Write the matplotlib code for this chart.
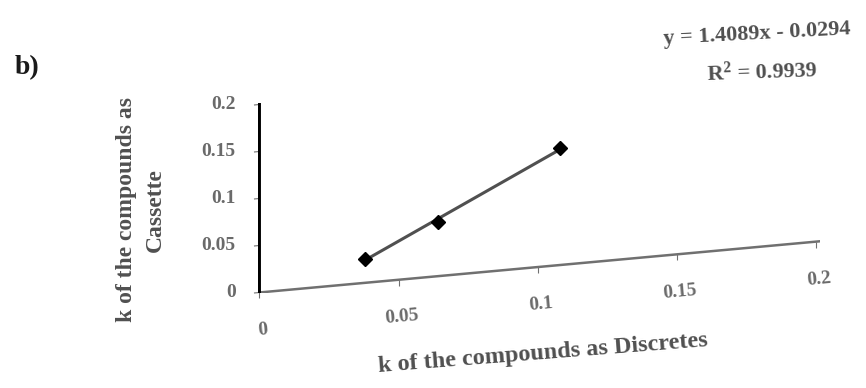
import numpy as np
import matplotlib.pyplot as plt
from matplotlib.transforms import Affine2D
from mpl_toolkits.axisartist import Axes, GridHelperCurveLinear
from mpl_toolkits.axisartist.grid_finder import FixedLocator

plt.rcParams['font.family'] = ['Liberation Serif', 'DejaVu Serif']

k_discrete = [0.038, 0.064, 0.108]
k_cassette = [0.025, 0.058, 0.124]
slope, intercept = 1.4089, -0.0294
r2 = 0.9939
ticks = [0, 0.05, 0.1, 0.15, 0.2]

# scanned figure is sheared: y axis upright, x axis climbs to the right
skew = Affine2D(np.array([[1.0, 0, 0], [0.27, 1.0, 0], [0, 0, 1.0]]))


def fmt(direction, factor, values):
    return ["%g" % v for v in values]


helper = GridHelperCurveLinear(skew,
                               grid_locator1=FixedLocator(ticks),
                               grid_locator2=FixedLocator(ticks),
                               tick_formatter1=fmt,
                               tick_formatter2=fmt)

fig = plt.figure(figsize=(8.66, 3.88), dpi=100)
ax = fig.add_axes([0.298, 0.245, 0.649, 0.49], axes_class=Axes, grid_helper=helper)
ax.axis[:].set_visible(False)
ax.set_xlim(-0.0005, 0.2015)
ax.set_ylim(-0.0005, 0.2015)

xax = ax.new_floating_axis(1, 0)
yax = ax.new_floating_axis(0, 0)
ax.axis['xk'] = xax
ax.axis['yk'] = yax

xax.set_axis_direction('bottom')
yax.set_axis_direction('left')
xax.line.set_color('#707070')
xax.line.set_linewidth(1.8)
yax.line.set_color('black')
yax.line.set_linewidth(2.8)
for a in (xax, yax):
    a.major_ticks.set_tick_out(True)
    a.major_ticks.set_ticksize(4)
    a.major_ticks.set_color('#707070')
    a.major_ticklabels.set_fontsize(14)
    a.major_ticklabels.set_fontweight('bold')
    a.major_ticklabels.set_color('#6a6a6a')
xax.major_ticklabels.set_pad(17)
yax.major_ticklabels.set_pad(13)

tr = skew + ax.transData
xs = np.array([min(k_discrete), max(k_discrete)])
ax.plot(xs, slope * xs + intercept, color='#505050', lw=2.2, transform=tr)
ax.plot(k_discrete, k_cassette, 'D', color='black', ms=7, transform=tr, clip_on=False)

txt = dict(fontweight='bold', color='#505050', ha='center', va='center')
fig.text(0.031, 0.825, 'b)', fontsize=20, fontweight='bold', color='#1a1a1a',
         ha='center', va='center')
fig.text(0.163, 0.459, 'k of the compounds as\nCassette', rotation=90, fontsize=17,
         linespacing=1.5, **txt)
fig.text(0.627, 0.088, 'k of the compounds as Discretes', rotation=4.5, fontsize=17.5, **txt)
fig.text(0.874, 0.912, 'y = %.4fx - %.4f' % (slope, -intercept), fontsize=16,
         rotation=3, **txt)
fig.text(0.88, 0.814, '$\\mathregular{R^2}$ = %.4f' % r2, fontsize=16, rotation=2, **txt)

fig.savefig('out.png', dpi=100)
